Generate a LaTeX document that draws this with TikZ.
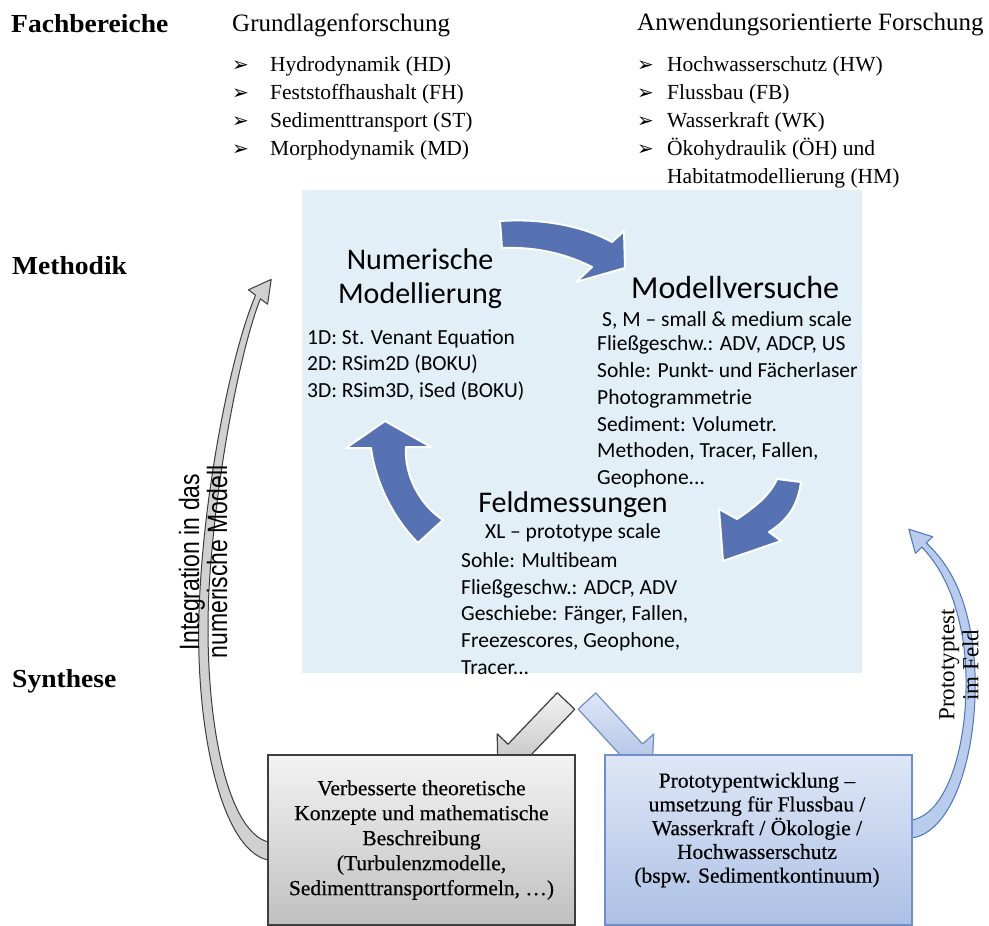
\documentclass[tikz,border=0pt]{standalone}
\usepackage{fontspec}
\setmainfont{Liberation Serif}
\newfontfamily\calfont{Carlito}
\newfontfamily\condfont[FakeStretch=0.82]{Liberation Sans}
\newfontfamily\symfont{DejaVu Sans}
\newfontfamily\semiserif[FakeBold=0.4]{Liberation Serif}
\newfontfamily\labfont[FakeStretch=1.06]{Liberation Serif}
\definecolor{boxblue}{RGB}{226,239,247}
\definecolor{arrowblue}{RGB}{86,114,178}
\definecolor{lbtop}{RGB}{222,231,246}
\definecolor{lbbot}{RGB}{172,192,229}
\definecolor{lbline}{RGB}{112,142,202}
\definecolor{gtop}{RGB}{243,243,243}
\definecolor{gbot}{RGB}{192,192,192}
\definecolor{gline}{RGB}{62,62,62}
\definecolor{sgfill}{RGB}{208,208,208}
\definecolor{sbfill}{RGB}{186,204,236}
\definecolor{sbline}{RGB}{74,116,192}
\begin{document}
\begin{tikzpicture}[x=1pt,y=-1pt,
  sect/.style={font=\labfont\fontsize{26}{30}\selectfont\bfseries, anchor=west, inner sep=0},
  headtxt/.style={font=\fontsize{25}{30}\selectfont, anchor=west, inner sep=0},
  lst/.style={font=\fontsize{21.5}{28}\selectfont, align=left, anchor=west, inner sep=0},
  bul/.style={font=\symfont\fontsize{20}{28}\selectfont, align=left, anchor=west, inner sep=0},
  ctitle/.style={font=\calfont\fontsize{30}{34}\selectfont, align=center, inner sep=0},
  ctext/.style={font=\calfont\fontsize{21.5}{26.8}\selectfont, align=left, anchor=west, inner sep=0},
  darrow/.style={fill=arrowblue, draw=white, line width=2pt, line join=round},
  grayarrow/.style={draw=gline, line width=1.2pt, line join=round, top color=gtop, bottom color=gbot},
  bluearrow/.style={draw=lbline, line width=1.2pt, line join=round, top color=lbtop, bottom color=lbbot},
  graybox/.style={draw=gline, line width=1.5pt, top color=gtop, bottom color=gbot,
    minimum width=307pt, minimum height=170pt, inner sep=0, align=center,
    font=\semiserif\fontsize{21.5}{25}\selectfont},
  bluebox/.style={draw=lbline, line width=1.5pt, top color=lbtop, bottom color=lbbot,
    minimum width=307pt, minimum height=170pt, inner sep=0},
  boxtext/.style={align=center, inner sep=0, font=\semiserif\fontsize{21.5}{23.75}\selectfont},
  sidelab/.style={align=center, inner sep=0, font=\condfont\fontsize{28}{28}\selectfont},
  protolab/.style={align=center, inner sep=0, font=\fontsize{23}{24}\selectfont}
]
\fill[white] (0,0) rectangle (989,926);
\useasboundingbox (0,0) rectangle (989,926);

% row labels
\node[sect] (fach) at (11,24) {Fachbereiche};
\node[sect] (meth) at (12,266) {Methodik};
\node[sect] (synth) at (12,681) {Synthese};

% headers and lists
\node[headtxt] (grund) at (232,25) {Grundlagenforschung};
\node[headtxt] (anw) at (637,25) {Anwendungsorientierte Forschung};
\node[bul] (bl1) at (232,108) {\strut ➢\\\strut ➢\\\strut ➢\\\strut ➢};
\node[lst] (l1) at (270,108) {\strut Hydrodynamik (HD)\\\strut Feststoffhaushalt (FH)\\\strut Sedimenttransport (ST)\\\strut Morphodynamik (MD)};
\node[bul] (bl2) at (637,108) {\strut ➢\\\strut ➢\\\strut ➢\\\strut ➢};
\node[lst] (l2) at (667,122) {\strut Hochwasserschutz (HW)\\\strut Flussbau (FB)\\\strut Wasserkraft (WK)\\\strut Ökohydraulik (ÖH) und\\\strut Habitatmodellierung (HM)};

% central box
\node[fill=boxblue, minimum width=560pt, minimum height=483pt, inner sep=0] (cbox) at (582,431.5) {};

% cycle arrows
\path[darrow] (500,221) .. controls (545,218) and (585,227) .. (612,242) -- (624,231) -- (625,268) -- (576,282) -- (592,267) .. controls (560,251) and (530,247) .. (502,248) -- cycle;
\path[darrow] (777,479) -- (801,482) .. controls (798,505) and (788,520) .. (769,532) -- (781,541) -- (723,561) -- (719,509) -- (737,519) .. controls (755,507) and (770,495) .. (777,479) -- cycle;
\path[darrow] (385,421) -- (431,447) -- (406,447) .. controls (404,475) and (420,505) .. (443,520) -- (418,543) .. controls (395,520) and (376,485) .. (371,448) -- (346,448) -- cycle;

% central texts
\node[ctitle] (numt) at (420,279) {Numerische\\Modellierung};
\node[ctext] (numi) at (307,365) {1D: St. Venant Equation\\2D: RSim2D (BOKU)\\3D: RSim3D, iSed (BOKU)};
\node[ctitle, anchor=west, font=\calfont\fontsize{32}{34}\selectfont] (mvt) at (631,288) {Modellversuche};
\node[ctext] (mvs) at (602,320) {S, M – small \& medium scale};
\node[ctext] (mvi) at (597,412) {Fließgeschw.: ADV, ADCP, US\\Sohle: Punkt- und Fächerlaser\\Photogrammetrie\\Sediment: Volumetr.\\Methoden, Tracer, Fallen,\\Geophone...};
\node[ctitle] (fmt) at (573,505) {Feldmessungen};
\node[ctext, anchor=center] (fmx) at (573,533) {XL – prototype scale};
\node[ctext] (fmi) at (461,613.5) {Sohle: Multibeam\\Fließgeschw.: ADCP, ADV\\Geschiebe: Fänger, Fallen,\\Freezescores, Geophone,\\Tracer...};

% side curved arrows
\path[draw=gline, line width=1pt, fill=sgfill, line join=round]
  (268,860) .. controls (220,850) and (192,720) .. (200,590)
  .. controls (206,480) and (232,350) .. (255.6,295.2)
  -- (248.4,289.8) -- (271.2,279.4) -- (267.6,304.2) -- (260.4,298.8)
  .. controls (240,350) and (215,480) .. (209,590)
  .. controls (203,710) and (225,830) .. (268,842) -- cycle;
\path[draw=sbline, line width=1pt, fill=sbfill, line join=round]
  (912,838) .. controls (962,830) and (984,720) .. (972,640)
  .. controls (965,595) and (950,565) .. (926.2,542.9)
  -- (932.6,536.7) -- (908.8,529.2) -- (915.4,553.3) -- (921.8,547.1)
  .. controls (942,568) and (956,598) .. (963,640)
  .. controls (974,715) and (955,812) .. (912,820) -- cycle;

\node[sidelab, rotate=90] (intlab) at (203,562) {Integration in das\\numerische Modell};
\node[protolab, rotate=90] (protolab) at (959,665) {Prototyptest\\im Feld};

% diagonal arrows to synthesis boxes
\path[grayarrow] (557.3,692.7) -- (574.7,709.3) -- (525.4,760.8) -- (536.2,771.2) -- (498,772) -- (497.2,733.8) -- (508.0,744.2) -- cycle;
\path[bluearrow] (578.2,709.1) -- (595.8,692.9) -- (642.6,744.0) -- (653.7,733.9) -- (652,772) -- (613.9,770.3) -- (625.0,760.2) -- cycle;

% synthesis boxes
\node[graybox] (gbox) at (421.5,840) {Verbesserte theoretische\\Konzepte und mathematische\\Beschreibung\\(Turbulenzmodelle,\\Sedimenttransportformeln, …)};
\node[bluebox] (bbox) at (758.5,840) {};
\node[boxtext] (btext) at (757,830) {Prototypentwicklung –\\umsetzung für Flussbau /\\Wasserkraft / Ökologie /\\Hochwasserschutz\\(bspw. Sedimentkontinuum)};
\end{tikzpicture}
\end{document}
